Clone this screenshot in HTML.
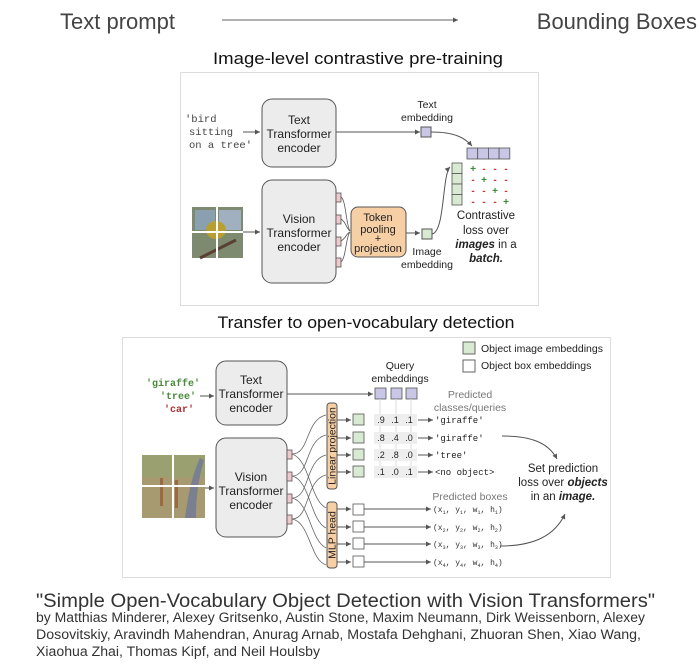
<!DOCTYPE html>
<html><head><meta charset="utf-8"><style>
html,body{margin:0;padding:0;background:#fff;}
svg{display:block;}
text{font-family:"Liberation Sans",sans-serif;}
.m{font-family:"Liberation Mono",monospace;}
</style></head><body>
<svg width="700" height="664" viewBox="0 0 700 664" xmlns="http://www.w3.org/2000/svg">
<defs>
<marker id="a" markerWidth="6" markerHeight="6" refX="5" refY="3" orient="auto"><path d="M0,0.5 L5,3 L0,5.5z" fill="#555"/></marker>
</defs>
<!-- header -->
<text x="60" y="29" font-size="22" fill="#444">Text prompt</text>
<line x1="222" y1="20" x2="458" y2="20" stroke="#666" stroke-width="1" marker-end="url(#a)"/>
<text x="697" y="29" font-size="22" fill="#444" text-anchor="end">Bounding Boxes</text>
<text x="358" y="64" font-size="17" fill="#111" text-anchor="middle" textLength="290" lengthAdjust="spacingAndGlyphs">Image-level contrastive pre-training</text>

<!-- frame 1 -->
<rect x="180.5" y="72.5" width="358" height="233" fill="#fff" stroke="#ddd"/>
<g font-size="10.5" class="m" fill="#444">
<text x="185" y="122" class="m">'bird</text>
<text x="189" y="135" class="m">sitting</text>
<text x="189" y="148" class="m">on a tree'</text>
</g>
<line x1="243" y1="132" x2="260" y2="132" stroke="#555" marker-end="url(#a)"/>
<rect x="262" y="99" width="74" height="68" rx="10" fill="#ececec" stroke="#555"/>
<g font-size="12" text-anchor="middle" fill="#222">
<text x="299" y="124">Text</text><text x="299" y="138">Transformer</text><text x="299" y="152">encoder</text>
</g>
<line x1="336" y1="132" x2="420" y2="132" stroke="#555" marker-end="url(#a)"/>
<text x="427" y="108" font-size="10.5" text-anchor="middle" fill="#222">Text</text>
<text x="427" y="121" font-size="10.5" text-anchor="middle" fill="#222">embedding</text>
<rect x="421" y="127" width="10" height="10" fill="#c9c6e6" stroke="#555"/>
<path d="M431,132 C455,132 465,138 472,146" fill="none" stroke="#555" marker-end="url(#a)"/>
<!-- image bird -->
<rect x="192" y="207" width="51" height="51" fill="#7d8a70"/>
<rect x="195" y="210" width="20" height="20" fill="#8aa0b0"/><rect x="219" y="210" width="22" height="20" fill="#a0b0c0"/>
<ellipse cx="216" cy="230" rx="10" ry="9" fill="#b8a030"/>
<path d="M200,258 L236,240" stroke="#5a4030" stroke-width="3"/>
<line x1="192" y1="232" x2="243" y2="232" stroke="#fff" stroke-width="2"/>
<line x1="217" y1="207" x2="217" y2="258" stroke="#fff" stroke-width="2"/>
<line x1="243" y1="232" x2="260" y2="232" stroke="#555" marker-end="url(#a)"/>
<rect x="262" y="180" width="74" height="103" rx="10" fill="#ececec" stroke="#555"/>
<g font-size="12" text-anchor="middle" fill="#222">
<text x="299" y="223">Vision</text><text x="299" y="237">Transformer</text><text x="299" y="251">encoder</text>
</g>
<g fill="#efc9cb" stroke="#555" stroke-width="0.8">
<rect x="336" y="193" width="5" height="9"/><rect x="336" y="215" width="5" height="9"/><rect x="336" y="237" width="5" height="9"/><rect x="336" y="258" width="5" height="9"/>
</g>
<g fill="none" stroke="#555" stroke-width="0.8">
<path d="M341,197 C346,200 346,225 350,231"/><path d="M341,219 C346,222 346,228 350,231"/><path d="M341,241 C346,238 346,234 350,232"/><path d="M341,262 C346,258 346,236 350,232"/>
</g>
<rect x="351" y="207" width="55" height="50" rx="7" fill="#f6cfa5" stroke="#555"/>
<g font-size="11" text-anchor="middle" fill="#222">
<text x="378" y="221">Token</text><text x="378" y="233">pooling</text><text x="378" y="242">+</text><text x="378" y="252">projection</text>
</g>
<line x1="406" y1="233" x2="420" y2="233" stroke="#555" marker-end="url(#a)"/>
<rect x="422" y="229" width="10" height="10" fill="#d9ead3" stroke="#555"/>
<text x="427" y="255" font-size="10.5" text-anchor="middle" fill="#222">Image</text>
<text x="427" y="268" font-size="10.5" text-anchor="middle" fill="#222">embedding</text>
<path d="M432,234 C445,232 442,175 450,167" fill="none" stroke="#555" marker-end="url(#a)"/>
<g fill="#d9ead3" stroke="#555" stroke-width="0.8">
<rect x="452" y="163" width="10" height="10.5"/><rect x="452" y="173.5" width="10" height="10.5"/><rect x="452" y="184" width="10" height="10.5"/><rect x="452" y="194.5" width="10" height="10.5"/>
</g>
<g fill="#c9c6e6" stroke="#555" stroke-width="0.8">
<rect x="467" y="148" width="10.7" height="11"/><rect x="477.7" y="148" width="10.7" height="11"/><rect x="488.4" y="148" width="10.7" height="11"/><rect x="499.1" y="148" width="10.7" height="11"/>
</g>
<g font-size="10" font-weight="bold" text-anchor="middle">
<text x="473" y="172" fill="#3a8a3a">+</text><text x="484" y="172" fill="#c33">-</text><text x="495" y="172" fill="#c33">-</text><text x="506" y="172" fill="#c33">-</text>
<text x="473" y="183" fill="#c33">-</text><text x="484" y="183" fill="#3a8a3a">+</text><text x="495" y="183" fill="#c33">-</text><text x="506" y="183" fill="#c33">-</text>
<text x="473" y="194" fill="#c33">-</text><text x="484" y="194" fill="#c33">-</text><text x="495" y="194" fill="#3a8a3a">+</text><text x="506" y="194" fill="#c33">-</text>
<text x="473" y="205" fill="#c33">-</text><text x="484" y="205" fill="#c33">-</text><text x="495" y="205" fill="#c33">-</text><text x="506" y="205" fill="#3a8a3a">+</text>
</g>
<g font-size="11.5" text-anchor="middle" fill="#222">
<text x="486" y="219">Contrastive</text><text x="486" y="234">loss over</text>
<text x="486" y="248"><tspan font-weight="bold" font-style="italic">images</tspan> in a</text>
<text x="486" y="262" font-weight="bold" font-style="italic">batch.</text>
</g>

<text x="366" y="328" font-size="17" fill="#111" text-anchor="middle" textLength="297" lengthAdjust="spacingAndGlyphs">Transfer to open-vocabulary detection</text>

<!-- frame 2 -->
<rect x="122.5" y="337.5" width="488" height="240" fill="#fff" stroke="#ddd"/>
<rect x="463" y="342" width="12" height="12" fill="#d9ead3" stroke="#666"/>
<text x="481" y="352" font-size="10.5" fill="#222">Object image embeddings</text>
<rect x="463" y="360" width="12" height="12" fill="#fff" stroke="#666"/>
<text x="481" y="369" font-size="10.5" fill="#222">Object box embeddings</text>

<g font-size="10" font-weight="bold" class="m" text-anchor="end">
<text x="200" y="386" class="m" fill="#4a8a3a">'giraffe'</text>
<text x="196" y="399" class="m" fill="#4a8a3a">'tree'</text>
<text x="194" y="412" class="m" fill="#b03030">'car'</text>
</g>
<line x1="200" y1="396" x2="214" y2="396" stroke="#555" marker-end="url(#a)"/>
<rect x="216" y="361" width="71" height="64" rx="10" fill="#ececec" stroke="#555"/>
<g font-size="12" text-anchor="middle" fill="#222">
<text x="251" y="384">Text</text><text x="251" y="398">Transformer</text><text x="251" y="412">encoder</text>
</g>
<line x1="287" y1="394" x2="373" y2="394" stroke="#555" marker-end="url(#a)"/>
<text x="400" y="369" font-size="10.5" text-anchor="middle" fill="#222">Query</text>
<text x="400" y="382" font-size="10.5" text-anchor="middle" fill="#222">embeddings</text>
<g fill="#c9c6e6" stroke="#555" stroke-width="0.8">
<rect x="375" y="388" width="11" height="11"/><rect x="391" y="388" width="11" height="11"/><rect x="406" y="388" width="11" height="11"/>
</g>
<g stroke="#ddd"><line x1="380" y1="399" x2="380" y2="478"/><line x1="396" y1="399" x2="396" y2="478"/><line x1="411" y1="399" x2="411" y2="478"/></g>
<text x="470" y="398" font-size="10.5" text-anchor="middle" fill="#777">Predicted</text>
<text x="470" y="411" font-size="10.5" text-anchor="middle" fill="#777">classes/queries</text>

<!-- giraffe image -->
<rect x="142" y="455" width="63" height="63" fill="#a89a70"/>
<rect x="142" y="455" width="63" height="22" fill="#9aa070"/>
<path d="M185,518 C188,495 192,475 200,458 L204,460 C198,480 196,500 196,518z" fill="#7a8090"/>
<rect x="160" y="478" width="3" height="28" fill="#9a6a40"/><rect x="175" y="480" width="3" height="28" fill="#9a6a40"/>
<line x1="142" y1="486" x2="205" y2="486" stroke="#fff" stroke-width="2"/>
<line x1="173" y1="455" x2="173" y2="518" stroke="#fff" stroke-width="2"/>
<line x1="205" y1="488" x2="214" y2="488" stroke="#555" marker-end="url(#a)"/>
<rect x="216" y="438" width="71" height="99" rx="10" fill="#ececec" stroke="#555"/>
<g font-size="12" text-anchor="middle" fill="#222">
<text x="251" y="481">Vision</text><text x="251" y="495">Transformer</text><text x="251" y="509">encoder</text>
</g>
<g fill="#efc9cb" stroke="#555" stroke-width="0.8">
<rect x="287" y="450" width="5" height="9"/><rect x="287" y="472" width="5" height="9"/><rect x="287" y="494" width="5" height="9"/><rect x="287" y="515" width="5" height="9"/>
</g>
<g fill="none" stroke="#666" stroke-width="0.8">
<path d="M292,454 C310,454 305,420 326,415"/><path d="M292,454 C310,460 310,500 326,508"/>
<path d="M292,476 C310,476 305,440 326,435"/><path d="M292,476 C310,480 310,520 326,528"/>
<path d="M292,498 C310,498 305,460 326,455"/><path d="M292,498 C310,502 310,540 326,548"/>
<path d="M292,519 C310,519 305,480 326,475"/><path d="M292,519 C310,522 310,560 326,565"/>
</g>
<rect x="327" y="403" width="10" height="86" rx="3" fill="#f6cfa5" stroke="#555"/>
<text transform="translate(335.5,446) rotate(-90)" font-size="10.5" text-anchor="middle" fill="#222">Linear projection</text>
<rect x="327" y="502" width="10" height="66" rx="3" fill="#f6cfa5" stroke="#555"/>
<text transform="translate(335.5,535) rotate(-90)" font-size="10.5" text-anchor="middle" fill="#222">MLP head</text>

<g stroke="#555" fill="none">
<line x1="337" y1="420" x2="351" y2="420" marker-end="url(#a)"/>
<line x1="337" y1="438" x2="351" y2="438" marker-end="url(#a)"/>
<line x1="337" y1="455" x2="351" y2="455" marker-end="url(#a)"/>
<line x1="337" y1="472" x2="351" y2="472" marker-end="url(#a)"/>
<line x1="337" y1="509" x2="351" y2="509" marker-end="url(#a)"/>
<line x1="337" y1="527" x2="351" y2="527" marker-end="url(#a)"/>
<line x1="337" y1="544" x2="351" y2="544" marker-end="url(#a)"/>
<line x1="337" y1="562" x2="351" y2="562" marker-end="url(#a)"/>
</g>
<g fill="#d9ead3" stroke="#555" stroke-width="0.8">
<rect x="353" y="414" width="11" height="11"/><rect x="353" y="432" width="11" height="11"/><rect x="353" y="449" width="11" height="11"/><rect x="353" y="466" width="11" height="11"/>
</g>
<g fill="#eee">
<rect x="374" y="414" width="43" height="12"/><rect x="374" y="432" width="43" height="12"/><rect x="374" y="449" width="43" height="12"/><rect x="374" y="466" width="43" height="12"/>
</g>
<g font-size="9" fill="#222" text-anchor="middle">
<text x="381" y="423">.9</text><text x="395" y="423">.1</text><text x="409" y="423">.1</text>
<text x="381" y="441">.8</text><text x="395" y="441">.4</text><text x="409" y="441">.0</text>
<text x="381" y="458">.2</text><text x="395" y="458">.8</text><text x="409" y="458">.0</text>
<text x="381" y="475">.1</text><text x="395" y="475">.0</text><text x="409" y="475">.1</text>
</g>
<g stroke="#555">
<line x1="418" y1="420" x2="433" y2="420" marker-end="url(#a)"/>
<line x1="418" y1="438" x2="433" y2="438" marker-end="url(#a)"/>
<line x1="418" y1="455" x2="433" y2="455" marker-end="url(#a)"/>
<line x1="418" y1="472" x2="433" y2="472" marker-end="url(#a)"/>
</g>
<g font-size="9" fill="#222">
<text x="435" y="423" class="m">'giraffe'</text>
<text x="435" y="441" class="m">'giraffe'</text>
<text x="435" y="458" class="m">'tree'</text>
<text x="435" y="475" class="m">&lt;no object&gt;</text>
</g>
<text x="470" y="500" font-size="10.5" text-anchor="middle" fill="#777">Predicted boxes</text>
<g fill="#fff" stroke="#555" stroke-width="0.8">
<rect x="353" y="504" width="11" height="11"/><rect x="353" y="521" width="11" height="11"/><rect x="353" y="538" width="11" height="11"/><rect x="353" y="556" width="11" height="11"/>
</g>
<g stroke="#555">
<line x1="364" y1="509" x2="431" y2="509" marker-end="url(#a)"/>
<line x1="364" y1="527" x2="431" y2="527" marker-end="url(#a)"/>
<line x1="364" y1="544" x2="431" y2="544" marker-end="url(#a)"/>
<line x1="364" y1="562" x2="431" y2="562" marker-end="url(#a)"/>
</g>
<g font-size="8" fill="#333" class="m">
<text x="433" y="512" class="m">(x<tspan font-size="5" dy="2">1</tspan><tspan dy="-2">, y</tspan><tspan font-size="5" dy="2">1</tspan><tspan dy="-2">, w</tspan><tspan font-size="5" dy="2">1</tspan><tspan dy="-2">, h</tspan><tspan font-size="5" dy="2">1</tspan><tspan dy="-2">)</tspan></text>
<text x="433" y="530" class="m">(x<tspan font-size="5" dy="2">2</tspan><tspan dy="-2">, y</tspan><tspan font-size="5" dy="2">2</tspan><tspan dy="-2">, w</tspan><tspan font-size="5" dy="2">2</tspan><tspan dy="-2">, h</tspan><tspan font-size="5" dy="2">2</tspan><tspan dy="-2">)</tspan></text>
<text x="433" y="547" class="m">(x<tspan font-size="5" dy="2">3</tspan><tspan dy="-2">, y</tspan><tspan font-size="5" dy="2">3</tspan><tspan dy="-2">, w</tspan><tspan font-size="5" dy="2">3</tspan><tspan dy="-2">, h</tspan><tspan font-size="5" dy="2">3</tspan><tspan dy="-2">)</tspan></text>
<text x="433" y="565" class="m">(x<tspan font-size="5" dy="2">4</tspan><tspan dy="-2">, y</tspan><tspan font-size="5" dy="2">4</tspan><tspan dy="-2">, w</tspan><tspan font-size="5" dy="2">4</tspan><tspan dy="-2">, h</tspan><tspan font-size="5" dy="2">4</tspan><tspan dy="-2">)</tspan></text>
</g>
<path d="M502,436 C530,436 548,442 557,459" fill="none" stroke="#555" marker-end="url(#a)"/>
<path d="M500,546 C535,546 555,535 565,514" fill="none" stroke="#555" marker-end="url(#a)"/>
<g font-size="11.5" text-anchor="middle" fill="#222">
<text x="563" y="472">Set prediction</text>
<text x="563" y="486">loss over <tspan font-weight="bold" font-style="italic">objects</tspan></text>
<text x="563" y="500">in an <tspan font-weight="bold" font-style="italic">image.</tspan></text>
</g>

<!-- citation -->
<text x="36" y="607" font-size="19.5" fill="#333" textLength="619" lengthAdjust="spacingAndGlyphs">"Simple Open-Vocabulary Object Detection with Vision Transformers"</text>
<g font-size="13.5" fill="#333">
<text x="36" y="622" textLength="609" lengthAdjust="spacingAndGlyphs">by Matthias Minderer, Alexey Gritsenko, Austin Stone, Maxim Neumann, Dirk Weissenborn, Alexey</text>
<text x="36" y="639" textLength="605" lengthAdjust="spacingAndGlyphs">Dosovitskiy, Aravindh Mahendran, Anurag Arnab, Mostafa Dehghani, Zhuoran Shen, Xiao Wang,</text>
<text x="36" y="656" textLength="284" lengthAdjust="spacingAndGlyphs">Xiaohua Zhai, Thomas Kipf, and Neil Houlsby</text>
</g>
</svg>
</body></html>
